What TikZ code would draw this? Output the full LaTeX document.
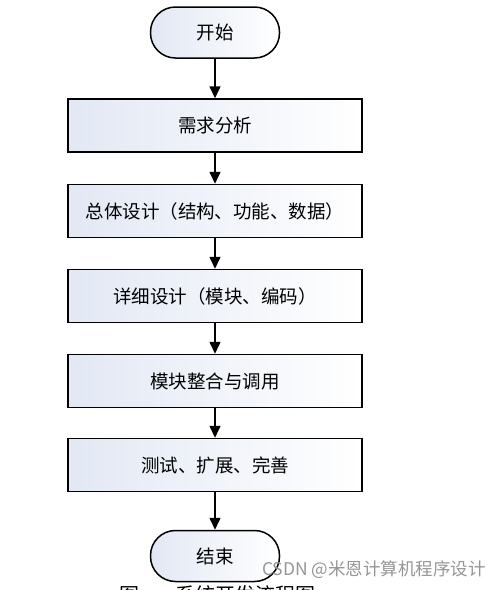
\documentclass[tikz,border=0pt]{standalone}
\usepackage{fontspec}
\setmainfont{Noto Sans CJK SC}
\usetikzlibrary{arrows.meta,positioning}
\definecolor{boxl}{RGB}{226,232,244}
\definecolor{wm}{RGB}{150,150,150}
\tikzset{
  procbox/.style={draw=black, line width=1.5pt, left color=boxl, right color=white,
    minimum width=294pt, minimum height=53pt, inner sep=0pt, font=\fontsize{18.5}{21}\selectfont},
  termbox/.style={draw=black, line width=1.5pt, left color=boxl, right color=white,
    rounded corners=25pt, minimum width=129pt, minimum height=51pt, inner sep=0pt,
    font=\fontsize{18.5}{21}\selectfont},
  flow/.style={line width=1.5pt, -{Triangle[width=11pt,length=12pt]}}
}
\begin{document}
\begin{tikzpicture}[x=1pt,y=-1pt]
\useasboundingbox (0,0) rectangle (500,590);
\clip (0,0) rectangle (500,590);
\fill[white] (0,0) rectangle (500,590);
\node[termbox] (start) at (215,32.5) {开始};
\node[procbox] (s1) at (215,125.5) {需求分析};
\node[procbox] (s2) at (215,211) {总体设计（结构、功能、数据）};
\node[procbox] (s3) at (215,296) {详细设计（模块、编码）};
\node[procbox] (s4) at (215,381) {模块整合与调用};
\node[procbox] (s5) at (215,465) {测试、扩展、完善};
\node[termbox] (end) at (215,556) {结束};
\draw[flow] (start) -- (s1);
\draw[flow] (s1) -- (s2);
\draw[flow] (s2) -- (s3);
\draw[flow] (s3) -- (s4);
\draw[flow] (s4) -- (s5);
\draw[flow] (s5) -- (end);
\node[anchor=east, text=wm, font=\fontsize{17.5}{20}\selectfont, inner sep=0pt] (wmk) at (486,570) {CSDN @米恩计算机程序设计};
\node[anchor=north west, font=\fontsize{20}{22}\selectfont, inner sep=0pt] (cap) at (119,585) {图\hspace{1.8em}系统开发流程图};
\end{tikzpicture}
\end{document}
